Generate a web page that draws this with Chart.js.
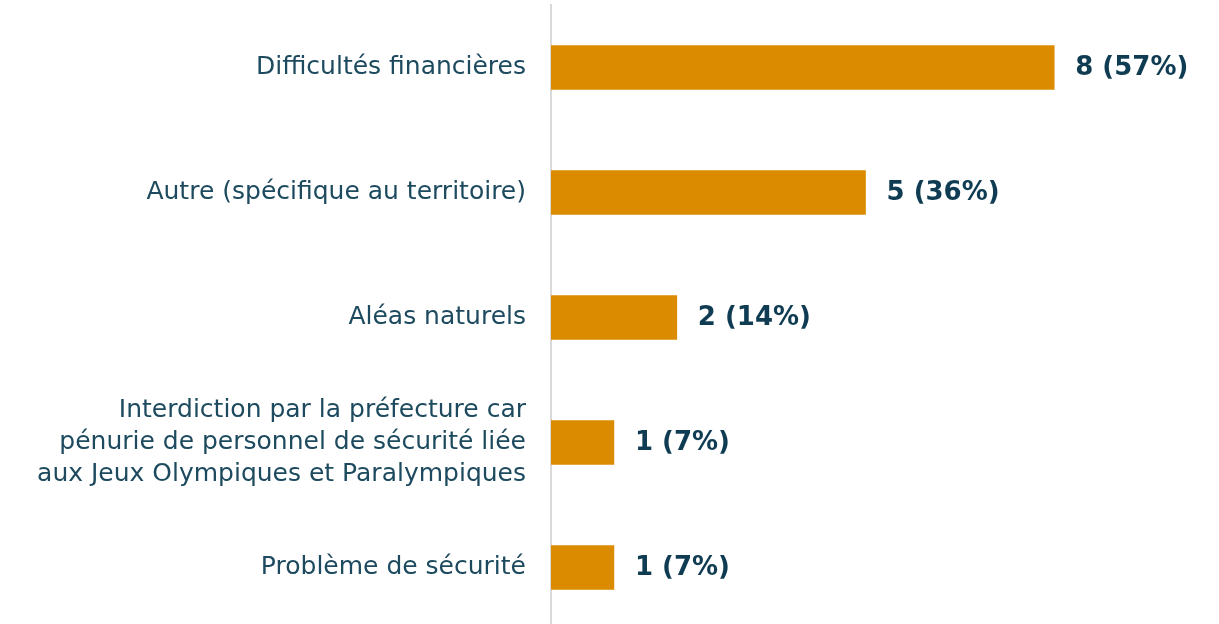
<!DOCTYPE html>
<html lang="fr">
<head>
  <meta charset="UTF-8" />
  <title>Motifs d'annulation</title>
  <script src="https://cdn.jsdelivr.net/npm/chart.js"></script>
  <style>
    html, body { margin: 0; padding: 0; overflow: hidden; background: #fff; }
    #wrap { width: 1219px; height: 630px; }
  </style>
</head>
<body>
  <div id="wrap"><canvas id="motifsChart"></canvas></div>

  <script>
    // Données
    const categories = [
      'Difficultés financières',
      'Autre (spécifique au territoire)',
      'Aléas naturels',
      ['Interdiction par la préfecture car', 'pénurie de personnel de sécurité liée', 'aux Jeux Olympiques et Paralympiques'],
      'Problème de sécurité'
    ];
    const valeurs = [8, 5, 2, 1, 1];
    const pourcentages = ['57%', '36%', '14%', '7%', '7%'];

    // étiquettes "n (x%)" au bout des barres
    const etiquettesValeurs = {
      id: 'etiquettesValeurs',
      afterDatasetsDraw(chart) {
        const ctx = chart.ctx;
        const meta = chart.getDatasetMeta(0);
        ctx.save();
        ctx.font = 'bold 26px "DejaVu Sans"';
        ctx.fillStyle = '#0f3c52';
        ctx.textAlign = 'left';
        ctx.textBaseline = 'middle';
        meta.data.forEach((bar, i) => {
          ctx.fillText(valeurs[i] + ' (' + pourcentages[i] + ')', bar.x + 21, bar.y + 1);
        });
        ctx.restore();
      }
    };

    const ctx = document.getElementById('motifsChart').getContext('2d');
    new Chart(ctx, {
      type: 'bar',
      data: {
        labels: categories,
        datasets: [{
          data: valeurs,
          backgroundColor: '#db8b00',
          barThickness: 44
        }]
      },
      options: {
        indexAxis: 'y',
        responsive: true,
        maintainAspectRatio: false,
        animation: false,
        layout: { padding: { top: 5, right: 0, bottom: 0, left: 0 } },
        plugins: { legend: { display: false }, tooltip: { enabled: false } },
        scales: {
          x: { display: false, min: 0, max: 10.62 },
          y: {
            afterFit(scale) {
              scale.width = 551;
              scale.paddingTop = 0;
              scale.paddingBottom = 0;
            },
            grid: { display: false, drawTicks: false },
            border: { display: true, color: '#d9d9d9', width: 2 },
            ticks: {
              padding: 25,
              color: '#1d4a5e',
              font: { family: 'DejaVu Sans', size: 25, lineHeight: 1.28 }
            }
          }
        }
      },
      plugins: [etiquettesValeurs]
    });
  </script>
</body>
</html>
